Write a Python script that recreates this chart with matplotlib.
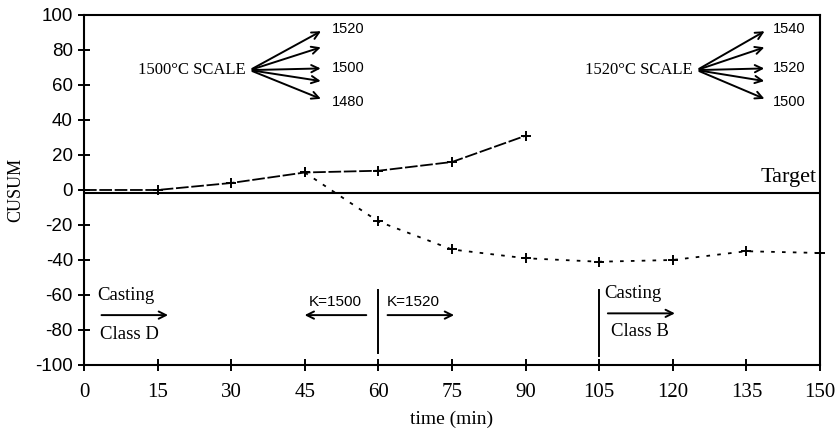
import matplotlib.pyplot as plt

# CUSUM data
time_1500 = [0, 15, 30, 45, 60, 75, 90]
cusum_1500 = [0, 0, 4, 10, 11, 16, 31]

time_1520 = [45, 60, 75, 90, 105, 120, 135, 150]
cusum_1520 = [10, -18, -34, -39, -41, -40, -35, -36]

x_ticks = [0, 15, 30, 45, 60, 75, 90, 105, 120, 135, 150]
y_ticks = [-100, -80, -60, -40, -20, 0, 20, 40, 60, 80, 100]

scale_left = ['1520', '1500', '1480']
scale_right = ['1540', '1520', '1500']

serif = 'Liberation Serif'
sans = 'Liberation Sans'

fig = plt.figure(figsize=(8.35, 4.37), dpi=100)
ax = fig.add_axes([0.1006, 0.1648, 0.8814, 0.8009])

ax.plot(time_1500, cusum_1500, color='black', lw=1.3,
        linestyle=(0, (7, 1.5)), marker='+', ms=7, mew=1.4, clip_on=False)
ax.plot(time_1520, cusum_1520, color='black', lw=1.3,
        linestyle=(0, (2, 4)), marker='+', ms=7, mew=1.4, clip_on=False)

# target line
ax.axhline(-2, color='black', lw=1.5)
ax.text(149.3, 1.5, 'Target', ha='right', va='bottom', family=serif, fontsize=16)

ax.set_xlim(0, 150)
ax.set_ylim(-100, 100)
ax.set_xticks(x_ticks)
ax.set_yticks(y_ticks)
ax.set_xticklabels([str(v) for v in x_ticks], family=serif, fontsize=15)
ax.set_yticklabels([str(v) for v in y_ticks], family=sans, fontsize=13.5)
ax.tick_params(direction='inout', length=8, width=1.4)
ax.tick_params(axis='x', pad=9)
ax.tick_params(axis='y', pad=4)
for s in ax.spines.values():
    s.set_linewidth(1.5)

ax.set_xlabel('time (min)', family=serif, fontsize=14, labelpad=6)
ax.set_ylabel('CUSUM', family=serif, fontsize=13, labelpad=8)

arr = dict(arrowstyle='->', color='black', lw=1.4, mutation_scale=13)

# 1500 C scale fan
ox, oy = 33.8, 68.5
ax.text(ox - 0.8, oy, '1500°C SCALE', ha='right', va='center', family=serif, fontsize=12)
for ty in [91.5, 82, 69.5, 62, 51.5]:
    ax.annotate('', xy=(48.8, ty), xytext=(ox, oy), arrowprops=arr)
for lbl, ty in zip(scale_left, [92, 69.5, 50.5]):
    ax.text(50.5, ty, lbl, ha='left', va='center', family=sans, fontsize=10.5)

# 1520 C scale fan
ox, oy = 124.9, 68.5
ax.text(ox - 0.8, oy, '1520°C SCALE', ha='right', va='center', family=serif, fontsize=12)
for ty in [91.5, 82, 69.5, 62, 51.5]:
    ax.annotate('', xy=(139.2, ty), xytext=(ox, oy), arrowprops=arr)
for lbl, ty in zip(scale_right, [92, 69.5, 50.5]):
    ax.text(140.3, ty, lbl, ha='left', va='center', family=sans, fontsize=10.5)

# casting class D
ax.annotate('', xy=(17.7, -71.5), xytext=(3.0, -71.5), arrowprops=arr)
ax.text(2.8, -65, 'Casting', ha='left', va='bottom', family=serif, fontsize=13.5)
ax.text(3.2, -78, 'Class D', ha='left', va='top', family=serif, fontsize=13.5)

# K change at 60 min
ax.plot([60, 60], [-57, -93], color='black', lw=1.4)
ax.annotate('', xy=(44.4, -71.5), xytext=(58.1, -71.5), arrowprops=arr)
ax.text(51.3, -68, 'K=1500', ha='center', va='bottom', family=sans, fontsize=11)
ax.annotate('', xy=(76.0, -71.5), xytext=(61.3, -71.5), arrowprops=arr)
ax.text(61.8, -68, 'K=1520', ha='left', va='bottom', family=sans, fontsize=11)

# casting class B
ax.plot([105, 105], [-57, -95], color='black', lw=1.4)
ax.annotate('', xy=(121.0, -70.5), xytext=(106.2, -70.5), arrowprops=arr)
ax.text(106.0, -64, 'Casting', ha='left', va='bottom', family=serif, fontsize=13.5)
ax.text(107.5, -76, 'Class B', ha='left', va='top', family=serif, fontsize=13.5)

fig.savefig('out.png', dpi=100)
